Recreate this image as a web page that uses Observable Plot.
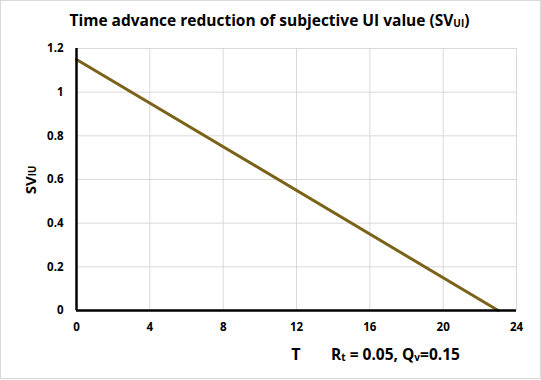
<!DOCTYPE html>
<html><head><meta charset="utf-8">
<script src="https://cdn.jsdelivr.net/npm/d3@7"></script>
<script src="https://cdn.jsdelivr.net/npm/@observablehq/plot@0.6"></script>
<style>
body{margin:0;background:#fff;font-family:"Open Sans",sans-serif;}
#wrap{position:relative;width:541px;height:380px;overflow:hidden;}
#frame{position:absolute;left:0;top:0;width:539px;height:377px;border:1px solid #d9d9d9;}
.t{position:absolute;font-weight:bold;color:#000;white-space:nowrap;}
sub{font-size:65%;vertical-align:baseline;position:relative;top:0.05em;}
</style></head>
<body><div id="wrap"><div id="frame"></div></div>
<script>
const T = [0, 23];
const SV = [1.15, 0];
const xTicks = [0, 4, 8, 12, 16, 20, 24];
const yTicks = [0, 0.2, 0.4, 0.6, 0.8, 1, 1.2];
const data = T.map((t, i) => ({T: t, SV: SV[i]}));

const chart = Plot.plot({
  width: 541, height: 380,
  marginLeft: 76, marginRight: 25, marginTop: 48, marginBottom: 70,
  style: {fontFamily: "Open Sans, sans-serif", fontWeight: "bold", fontSize: "11.5px", color: "#000", background: "transparent"},
  x: {domain: [0, 24], ticks: xTicks, label: null},
  y: {domain: [0, 1.2], ticks: yTicks, label: null},
  marks: [
    Plot.gridX(xTicks, {stroke: "#d9d9d9", strokeOpacity: 1}),
    Plot.gridY(yTicks, {stroke: "#d9d9d9", strokeOpacity: 1}),
    Plot.axisX(xTicks, {tickSize: 0, tickPadding: 12, tickFormat: d => String(d), label: null}),
    Plot.axisY(yTicks, {tickSize: 0, tickPadding: 13, tickFormat: d => d3.format("~g")(d), label: null}),
    Plot.line(data, {x: "T", y: "SV", stroke: "#7a6318", strokeWidth: 3}),
    Plot.ruleX([0], {stroke: "#000", strokeWidth: 2.5}),
    Plot.ruleY([0], {stroke: "#000", strokeWidth: 2.5})
  ]
});
chart.style.position = "absolute";
chart.style.left = "0px";
chart.style.top = "0px";
const wrap = document.getElementById("wrap");
wrap.appendChild(chart);

function addText(html, style) {
  const d = document.createElement("div");
  d.className = "t";
  d.innerHTML = html;
  Object.assign(d.style, style);
  wrap.appendChild(d);
  return d;
}
addText("Time advance reduction of subjective UI value (SV<sub>UI</sub>)", {left: "0px", width: "539px", textAlign: "center", top: "9px", fontSize: "15.5px"});
addText("SV<sub>IU</sub>", {left: "30px", top: "180px", fontSize: "15px", transform: "translate(-50%,-50%) rotate(-90deg)"});
addText("T", {left: "296px", top: "354px", fontSize: "16px", transform: "translate(-50%,-50%)"});
addText("R<sub>t</sub> = 0.05, Q<sub>v</sub>=0.15", {left: "331px", top: "354px", fontSize: "15.5px", transform: "translate(0,-50%)"});
</script></body></html>
